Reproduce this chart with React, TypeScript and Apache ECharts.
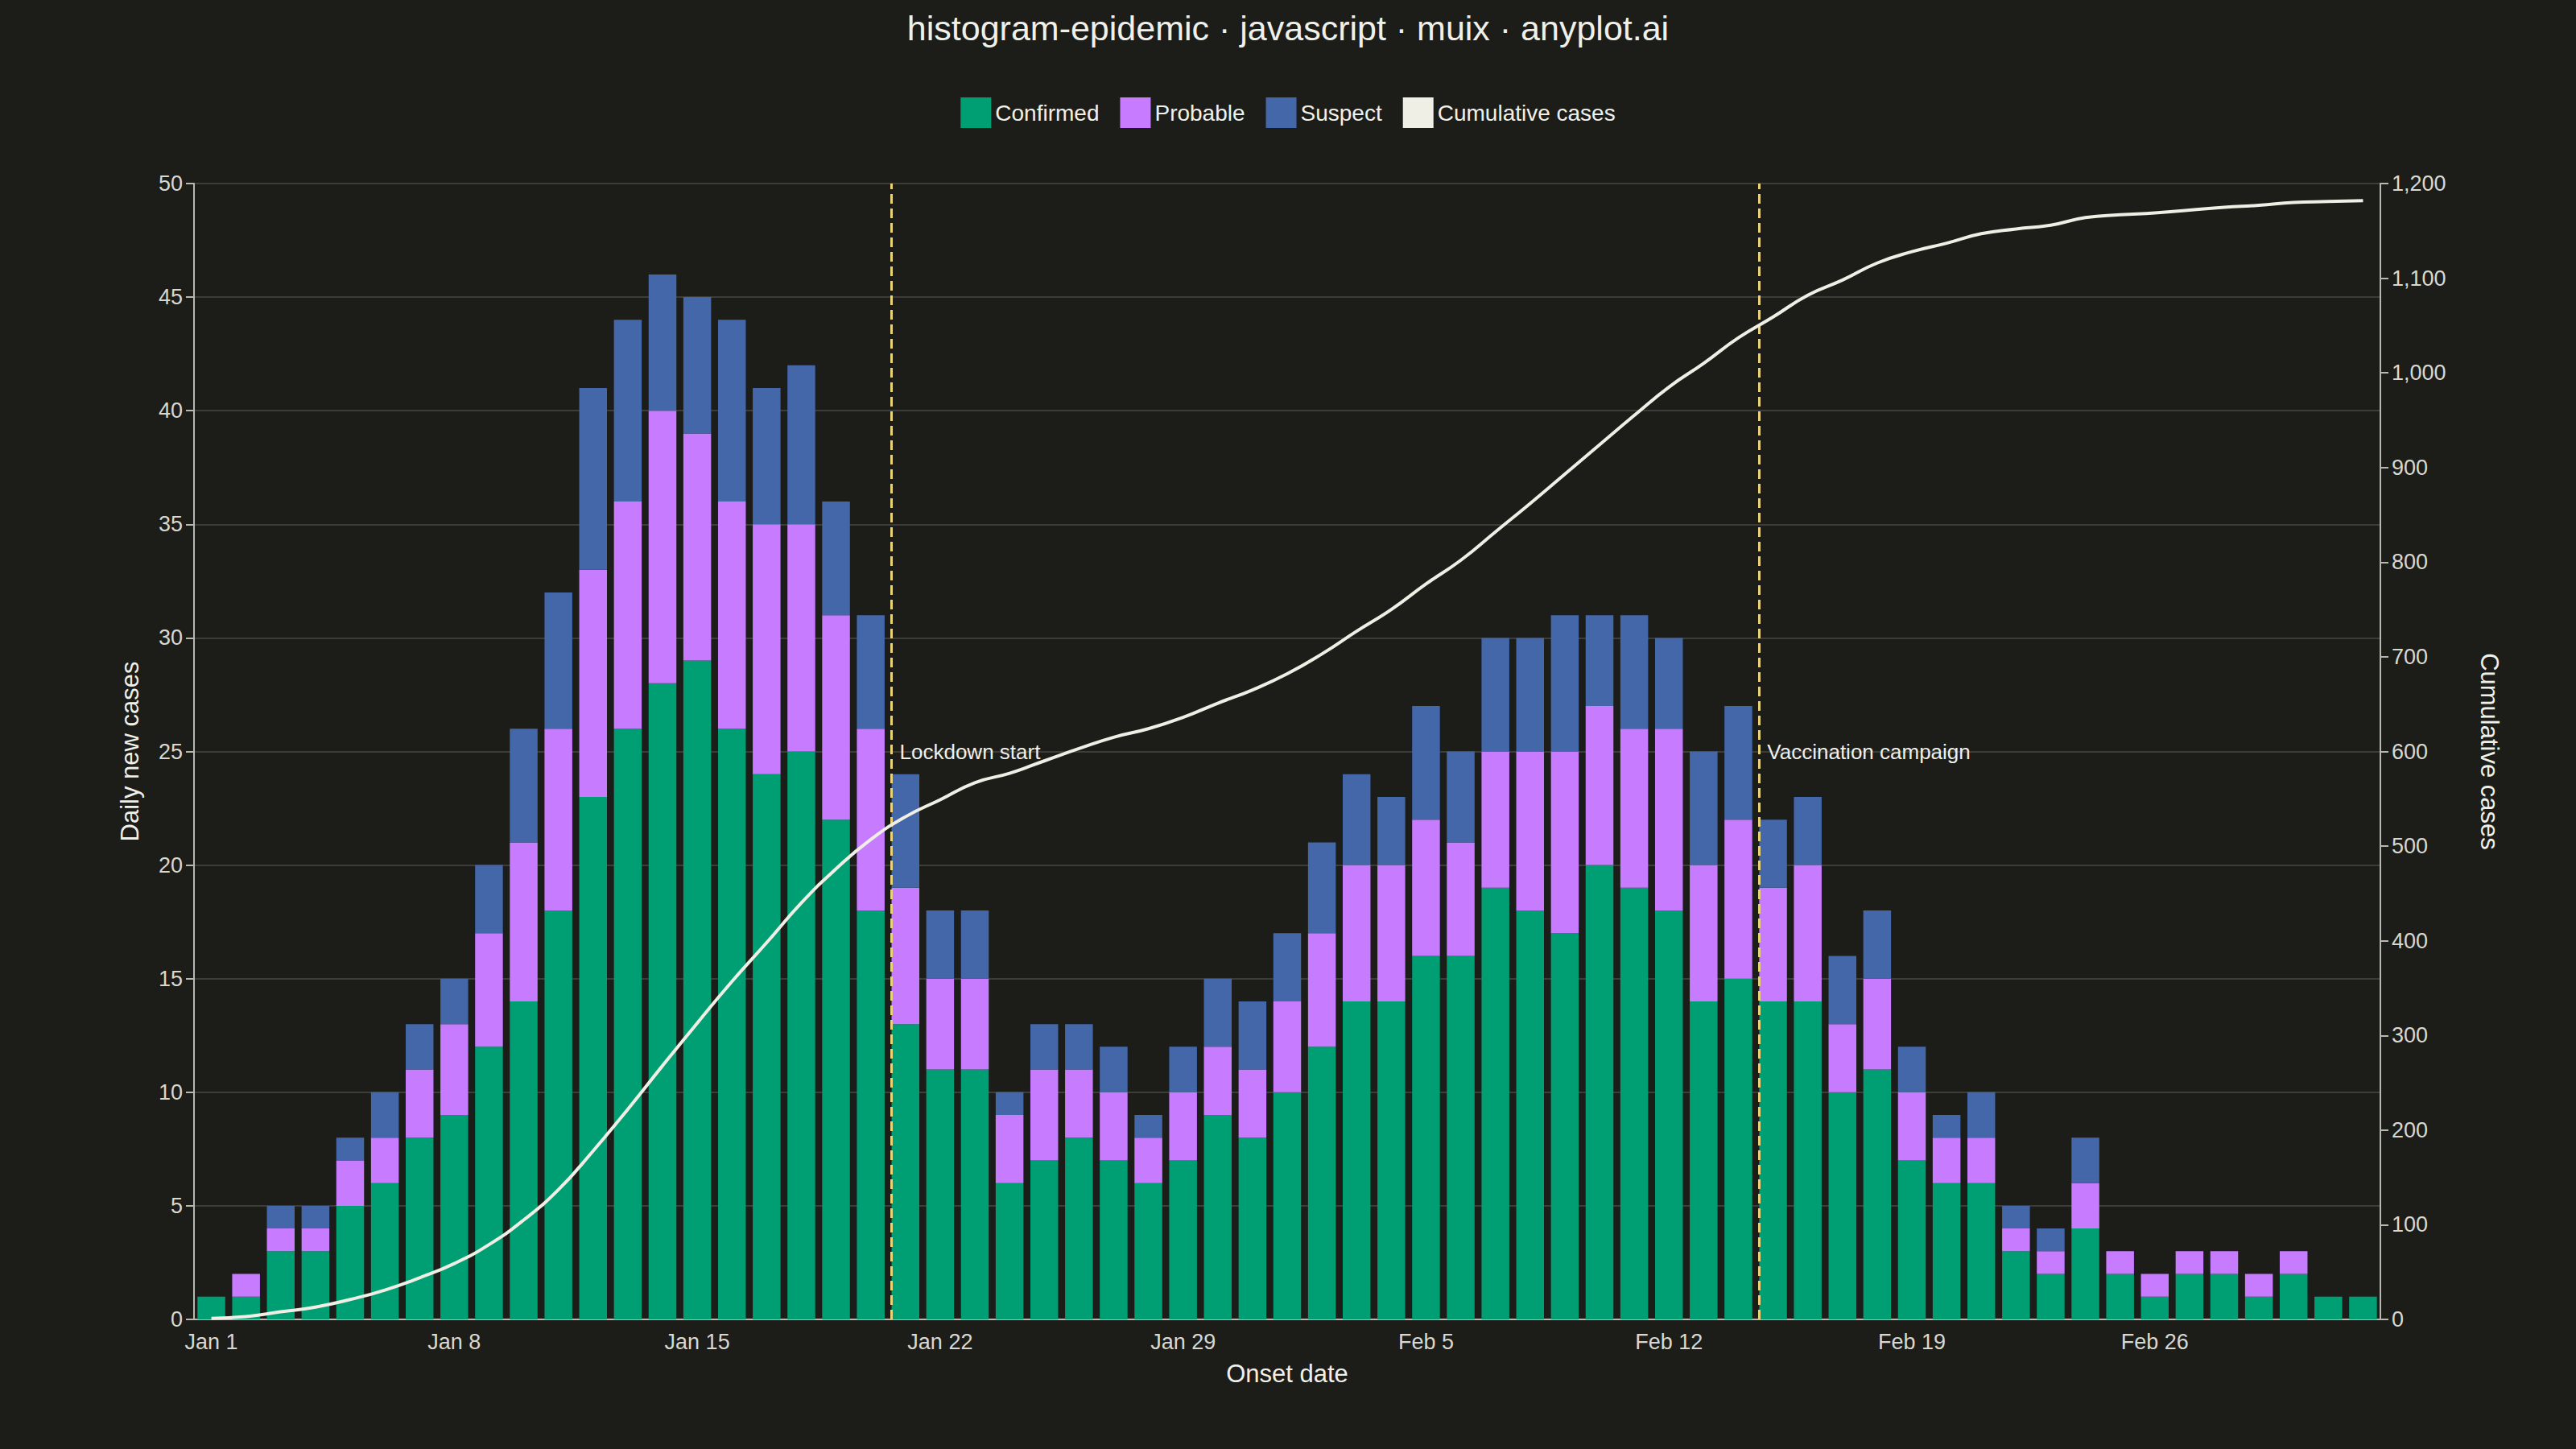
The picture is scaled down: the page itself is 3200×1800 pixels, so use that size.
import * as echarts from "echarts";
import { useEffect, useRef } from "react";

const startDate = new Date(2024, 0, 1);
const dayCount = 63;

// stacked tops: confirmed, confirmed+probable, confirmed+probable+suspect
const confirmed = [1, 1, 3, 3, 5, 6, 8, 9, 12, 14, 18, 23, 26, 28, 29, 26, 24, 25, 22, 18, 13, 11, 11, 6, 7, 8, 7, 6, 7, 9, 8, 10, 12, 14, 14, 16, 16, 19, 18, 17, 20, 19, 18, 14, 15, 14, 14, 10, 11, 7, 6, 6, 3, 2, 4, 2, 1, 2, 2, 1, 2, 1, 1];
const probableTop = [1, 2, 4, 4, 7, 8, 11, 13, 17, 21, 26, 33, 36, 40, 39, 36, 35, 35, 31, 26, 19, 15, 15, 9, 11, 11, 10, 8, 10, 12, 11, 14, 17, 20, 20, 22, 21, 25, 25, 25, 27, 26, 26, 20, 22, 19, 20, 13, 15, 10, 8, 8, 4, 3, 6, 3, 2, 3, 3, 2, 3, 1, 1];
const suspectTop = [1, 2, 5, 5, 8, 10, 13, 15, 20, 26, 32, 41, 44, 46, 45, 44, 41, 42, 36, 31, 24, 18, 18, 10, 13, 13, 12, 9, 12, 15, 14, 17, 21, 24, 23, 27, 25, 30, 30, 31, 31, 31, 30, 25, 27, 22, 23, 16, 18, 12, 9, 10, 5, 4, 8, 3, 2, 3, 3, 2, 3, 1, 1];

const probable = probableTop.map((v, i) => v - confirmed[i]);
const suspect = suspectTop.map((v, i) => v - probableTop[i]);

const months = ["Jan", "Feb", "Mar"];
const categories: string[] = [];
for (let i = 0; i < dayCount; i++) {
    const d = new Date(startDate.getTime() + i * 86400000);
    categories.push(months[d.getMonth()] + " " + d.getDate());
}

const cumulative: number[] = [];
suspectTop.reduce((acc, v) => {
    cumulative.push(acc + v);
    return acc + v;
}, 0);

// events: position in day index (lines sit a bit left of the bar centre)
const events = [
    { name: "Lockdown start", at: 19.6 },
    { name: "Vaccination campaign", at: 44.6 },
];

const App: React.FC = () => {
    const node = useRef<HTMLDivElement>(null);

    useEffect(() => {
        const chart = echarts.init(node.current, null, { renderer: "svg" });
        const textColor = "#d8d8d0";
        const option: any = {
            animation: false,
            backgroundColor: "#1c1c19",
            textStyle: { fontFamily: "Liberation Sans, Arial, sans-serif" },
            title: {
                text: "histogram-epidemic · javascript · muix · anyplot.ai",
                left: "center",
                top: 8,
                textStyle: { color: "#f0f0ea", fontSize: 43, fontWeight: "normal" },
            },
            legend: {
                top: 116,
                left: "center",
                itemWidth: 38,
                itemHeight: 38,
                itemGap: 26,
                icon: "rect",
                textStyle: { color: "#f0f0ea", fontSize: 28 },
                data: ["Confirmed", "Probable", "Suspect", { name: "Cumulative cases", icon: "rect" }],
            },
            grid: { left: 241, right: 243, top: 228, bottom: 161 },
            xAxis: [
                {
                    type: "category",
                    data: categories,
                    name: "Onset date",
                    nameLocation: "middle",
                    nameGap: 52,
                    nameTextStyle: { color: "#f0f0ea", fontSize: 31 },
                    axisLine: { lineStyle: { color: "#b8b8b0", width: 2 } },
                    axisTick: { interval: 0, length: 10, lineStyle: { color: "#b8b8b0", width: 2 } },
                    axisLabel: { interval: 6, color: textColor, fontSize: 27, margin: 14 },
                },
                {
                    type: "value",
                    min: -0.5,
                    max: dayCount - 0.5,
                    show: false,
                },
            ],
            yAxis: [
                {
                    type: "value",
                    min: 0,
                    max: 50,
                    interval: 5,
                    name: "Daily new cases",
                    nameLocation: "middle",
                    nameGap: 64,
                    nameTextStyle: { color: "#f0f0ea", fontSize: 31 },
                    axisLine: { show: true, onZero: false, lineStyle: { color: "#b8b8b0", width: 2 } },
                    axisTick: { show: true, length: 10, lineStyle: { color: "#b8b8b0", width: 2 } },
                    axisLabel: { color: textColor, fontSize: 27, margin: 14 },
                    splitLine: { lineStyle: { color: "#3c3c38", width: 2 } },
                },
                {
                    type: "value",
                    min: 0,
                    max: 1200,
                    interval: 100,
                    name: "Cumulative cases",
                    nameLocation: "middle",
                    nameRotate: -90,
                    nameGap: 120,
                    nameTextStyle: { color: "#f0f0ea", fontSize: 31 },
                    axisLine: { show: true, onZero: false, lineStyle: { color: "#b8b8b0", width: 2 } },
                    axisTick: { show: true, length: 10, lineStyle: { color: "#b8b8b0", width: 2 } },
                    axisLabel: {
                        color: textColor,
                        fontSize: 27,
                        margin: 14,
                        formatter: (v: number) => v.toLocaleString("en-US"),
                    },
                    splitLine: { show: false },
                },
            ],
            series: [
                {
                    name: "Confirmed",
                    type: "bar",
                    stack: "cases",
                    data: confirmed,
                    barCategoryGap: "20%",
                    itemStyle: { color: "#009e73" },
                },
                {
                    name: "Probable",
                    type: "bar",
                    stack: "cases",
                    data: probable,
                    itemStyle: { color: "#c77cff" },
                },
                {
                    name: "Suspect",
                    type: "bar",
                    stack: "cases",
                    data: suspect,
                    itemStyle: { color: "#4467a9" },
                },
                {
                    name: "Cumulative cases",
                    type: "line",
                    yAxisIndex: 1,
                    data: cumulative,
                    smooth: true,
                    showSymbol: false,
                    z: 5,
                    itemStyle: { color: "#f0efe6" },
                    lineStyle: { color: "#f0efe6", width: 4 },
                },
                {
                    name: "events",
                    type: "line",
                    xAxisIndex: 1,
                    yAxisIndex: 0,
                    data: [],
                    silent: true,
                    z: 6,
                    markLine: {
                        symbol: "none",
                        label: { show: false },
                        lineStyle: { color: "#e8d27a", type: "dashed", width: 3 },
                        data: events.map((e) => ({ xAxis: e.at })),
                    },
                    markPoint: {
                        symbol: "circle",
                        symbolSize: 0,
                        label: {
                            show: true,
                            position: "right",
                            distance: 10,
                            color: "#f0f0ea",
                            fontSize: 26,
                            formatter: "{b}",
                        },
                        data: events.map((e) => ({ name: e.name, coord: [e.at, 25] })),
                    },
                },
            ],
        };
        chart.setOption(option);
        return () => {
            chart.dispose();
        };
    }, []);

    return (
        <div
            ref={node}
            style={{ position: "fixed", left: 0, top: 0, width: 3200, height: 1800 }}
        ></div>
    );
};

export default App;
